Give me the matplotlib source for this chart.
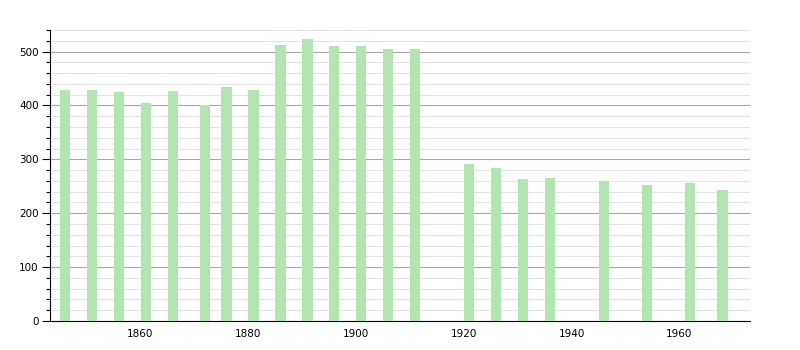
import matplotlib
matplotlib.use("Agg")
import matplotlib.pyplot as plt
from matplotlib.ticker import MultipleLocator

years = [1846, 1851, 1856, 1861, 1866, 1872, 1876, 1881, 1886, 1891, 1896,
         1901, 1906, 1911, 1921, 1926, 1931, 1936, 1946, 1954, 1962, 1968]
population = [428, 428, 425, 404, 427, 400, 434, 428, 512, 523, 511,
              511, 505, 505, 292, 283, 264, 266, 259, 253, 257, 244]
x_ticks = [1860, 1880, 1900, 1920, 1940, 1960]
y_ticks = [0, 100, 200, 300, 400, 500]

fig = plt.figure(figsize=(8, 3.5), dpi=100)
ax = fig.add_axes([50/800, 29/350, 700/800, 291/350])

ax.bar(years, population, width=1.9, color="#b2e5b2", edgecolor="none", zorder=3)

ax.set_xlim(1843.25, 1973.1)
ax.set_ylim(0, 540)
ax.set_xticks(x_ticks)
ax.set_yticks(y_ticks)
ax.yaxis.set_minor_locator(MultipleLocator(20))
ax.grid(which="major", axis="y", color="#a8a8a8", linewidth=0.8, zorder=1)
ax.grid(which="minor", axis="y", color="#e4e4e4", linewidth=0.8, zorder=0)
ax.set_axisbelow(True)

for s in ["top", "right"]:
    ax.spines[s].set_visible(False)
ax.spines["left"].set_color("black")
ax.spines["bottom"].set_color("black")
ax.tick_params(axis="x", length=0, labelsize=7.5, pad=6)
ax.tick_params(axis="y", which="major", length=6, width=0.8, labelsize=7.5, pad=2)
ax.tick_params(axis="y", which="minor", length=3, width=0.8)

fig.savefig("out.png", dpi=100)
